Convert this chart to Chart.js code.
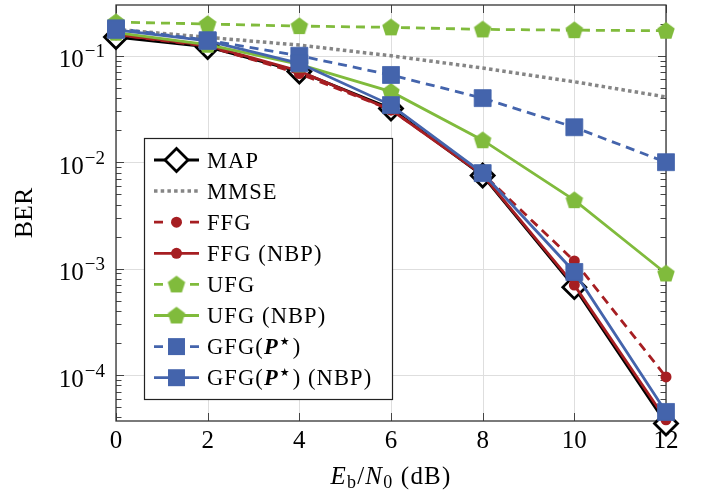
<!DOCTYPE html>
<html>
<head>
<meta charset="utf-8">
<script src="https://cdn.jsdelivr.net/npm/chart.js@4/dist/chart.umd.min.js"></script>
<style>
  html, body { margin: 0; padding: 0; background: #fff; }
  canvas { display: block; }
</style>
</head>
<body>
<canvas id="berChart" width="707" height="497"></canvas>
<script>
// Eb/N0 in dB
const ebn0 = [0, 2, 4, 6, 8, 10, 12];

// BER curves
const berMap     = [0.150, 0.121, 0.071, 0.032, 0.0075, 0.00067, 0.000035];
const berMmse    = [0.177, 0.149, 0.126, 0.100, 0.0767, 0.057, 0.041];
const berFfg     = [0.158, 0.123, 0.068, 0.031, 0.0078, 0.00118, 0.000096];
const berFfgNbp  = [0.158, 0.125, 0.072, 0.031, 0.0076, 0.00070, 0.000038];
const berUfg     = [0.207, 0.199, 0.190, 0.185, 0.177, 0.174, 0.172];
const berUfgNbp  = [0.165, 0.127, 0.083, 0.046, 0.0161, 0.0044, 0.00090];
const berGfg     = [0.181, 0.140, 0.100, 0.066, 0.040, 0.0213, 0.0100];
const berGfgNbp  = [0.175, 0.138, 0.085, 0.0344, 0.0079, 0.00093, 0.000045];

// axis ticks
const xTicks = [0, 2, 4, 6, 8, 10, 12];
const yTicks = [1e-1, 1e-2, 1e-3, 1e-4];
const yTickExp = ['\u22121', '\u22122', '\u22123', '\u22124'];

const RED = '#a61e22';
const GREEN = '#80bb3c';
const BLUE = '#4464ac';
const GRAY = '#858585';
const SERIF = '"Liberation Serif", "Times New Roman", serif';

function makePentagon(color) {
  const c = document.createElement('canvas');
  c.width = 20; c.height = 20;
  const g = c.getContext('2d');
  g.beginPath();
  for (let i = 0; i < 5; i++) {
    const a = -Math.PI / 2 + i * 2 * Math.PI / 5;
    const px = 10 + 9.2 * Math.cos(a), py = 10.5 + 9.2 * Math.sin(a);
    if (i === 0) g.moveTo(px, py); else g.lineTo(px, py);
  }
  g.closePath();
  g.fillStyle = color;
  g.fill();
  return c;
}
const pentagon = makePentagon(GREEN);

function pts(arr) {
  return ebn0.map((x, i) => ({ x: x, y: arr[i] }));
}

const datasets = [
  { label: 'MAP', data: pts(berMap), borderColor: '#000', borderWidth: 2.8,
    pointStyle: 'rectRot', pointRadius: 11.5, pointBackgroundColor: '#fff',
    pointBorderColor: '#000', pointBorderWidth: 2.8, order: 8 },
  { label: 'MMSE', data: pts(berMmse), borderColor: GRAY, borderWidth: 3.5,
    borderDash: [3.5, 3.2], pointRadius: 0, order: 7 },
  { label: 'FFG', data: pts(berFfg), borderColor: RED, borderWidth: 2.8,
    borderDash: [9, 6], pointStyle: 'circle', pointRadius: 5.5,
    pointBackgroundColor: RED, pointBorderColor: RED, pointBorderWidth: 0, order: 6 },
  { label: 'FFG (NBP)', data: pts(berFfgNbp), borderColor: RED, borderWidth: 2.8,
    pointStyle: 'circle', pointRadius: 5.5,
    pointBackgroundColor: RED, pointBorderColor: RED, pointBorderWidth: 0, order: 5 },
  { label: 'UFG', data: pts(berUfg), borderColor: GREEN, borderWidth: 2.8,
    borderDash: [9, 6], pointStyle: pentagon, order: 4 },
  { label: 'UFG (NBP)', data: pts(berUfgNbp), borderColor: GREEN, borderWidth: 2.8,
    pointStyle: pentagon, order: 3 },
  { label: 'GFG(P*)', data: pts(berGfg), borderColor: BLUE, borderWidth: 2.8,
    borderDash: [9, 6], pointStyle: 'rect', pointRadius: 12,
    pointBackgroundColor: BLUE, pointBorderColor: BLUE, pointBorderWidth: 0.8, order: 2 },
  { label: 'GFG(P*) (NBP)', data: pts(berGfgNbp), borderColor: BLUE, borderWidth: 2.8,
    pointStyle: 'rect', pointRadius: 12,
    pointBackgroundColor: BLUE, pointBorderColor: BLUE, pointBorderWidth: 0.8, order: 1 }
];
datasets.forEach(d => { d.tension = 0; d.clip = false; d.fill = false; });

// draw a run of text pieces with different fonts / offsets
function drawPieces(ctx, pieces, x, y, align, spacing) {
  ctx.letterSpacing = (spacing || 0) + 'px';
  let total = 0;
  pieces.forEach(p => { ctx.font = p.f; p.w = ctx.measureText(p.t).width; total += p.w + (p.gap || 0); });
  let cx = align === 'center' ? x - total / 2 : (align === 'right' ? x - total : x);
  ctx.textAlign = 'left';
  ctx.textBaseline = 'alphabetic';
  pieces.forEach(p => {
    ctx.font = p.f;
    ctx.fillText(p.t, cx, y + (p.dy || 0));
    cx += p.w + (p.gap || 0);
  });
  ctx.letterSpacing = '0px';
}

const axisPlugin = {
  id: 'axisPlugin',
  beforeDatasetsDraw(chart) {
    const { ctx, chartArea: a, scales: { x, y } } = chart;
    ctx.save();
    // major grid
    ctx.strokeStyle = '#dedede';
    ctx.lineWidth = 1;
    ctx.beginPath();
    xTicks.forEach(v => {
      const px = Math.round(x.getPixelForValue(v)) + 0.5;
      ctx.moveTo(px, a.top); ctx.lineTo(px, a.bottom);
    });
    yTicks.forEach(v => {
      const py = Math.round(y.getPixelForValue(v)) + 0.5;
      ctx.moveTo(a.left, py); ctx.lineTo(a.right, py);
    });
    ctx.stroke();

    // tick marks inside the frame
    ctx.strokeStyle = '#444';
    ctx.lineWidth = 1;
    ctx.beginPath();
    xTicks.forEach(v => {
      const px = Math.round(x.getPixelForValue(v)) + 0.5;
      ctx.moveTo(px, a.bottom); ctx.lineTo(px, a.bottom - 8);
      ctx.moveTo(px, a.top); ctx.lineTo(px, a.top + 8);
    });
    yTicks.forEach(v => {
      const py = Math.round(y.getPixelForValue(v)) + 0.5;
      ctx.moveTo(a.left, py); ctx.lineTo(a.left + 8, py);
      ctx.moveTo(a.right, py); ctx.lineTo(a.right - 8, py);
    });
    for (let e = -5; e <= 0; e++) {
      for (let k = 2; k <= 9; k++) {
        const v = k * Math.pow(10, e);
        if (v < y.min || v > y.max) continue;
        const py = Math.round(y.getPixelForValue(v)) + 0.5;
        ctx.moveTo(a.left, py); ctx.lineTo(a.left + 5.5, py);
        ctx.moveTo(a.right, py); ctx.lineTo(a.right - 5.5, py);
      }
    }
    ctx.stroke();

    // frame
    ctx.strokeStyle = '#333';
    ctx.lineWidth = 1.3;
    ctx.strokeRect(a.left, a.top, a.right - a.left, a.bottom - a.top);

    // tick labels
    ctx.fillStyle = '#000';
    ctx.font = '25px ' + SERIF;
    ctx.textAlign = 'center';
    ctx.textBaseline = 'alphabetic';
    xTicks.forEach(v => ctx.fillText(String(v), x.getPixelForValue(v), 448));
    yTicks.forEach((v, i) => {
      const py = y.getPixelForValue(v);
      ctx.font = '19px ' + SERIF;
      const we = ctx.measureText(yTickExp[i]).width;
      ctx.font = '25px ' + SERIF;
      const wb = ctx.measureText('10').width;
      ctx.textAlign = 'left';
      ctx.fillText('10', 105 - we - wb - 1, py + 11.5);
      ctx.font = '19px ' + SERIF;
      ctx.fillText(yTickExp[i], 105 - we, py + 1.5);
    });

    // axis titles
    drawPieces(ctx, [
      { t: 'E', f: 'italic 25px ' + SERIF },
      { t: 'b', f: '18px ' + SERIF, dy: 4 },
      { t: '/', f: '25px ' + SERIF },
      { t: 'N', f: 'italic 25px ' + SERIF },
      { t: '0', f: '18px ' + SERIF, dy: 4 },
      { t: ' (dB)', f: '25px ' + SERIF }
    ], (a.left + a.right) / 2, 484, 'center', 1.2);

    ctx.save();
    ctx.translate(25, (a.top + a.bottom) / 2);
    ctx.rotate(-Math.PI / 2);
    ctx.font = '26px ' + SERIF;
    ctx.textAlign = 'center';
    ctx.textBaseline = 'middle';
    ctx.fillText('BER', 0, 0);
    ctx.restore();
    ctx.restore();
  },
  afterDraw(chart) {
    const ctx = chart.ctx;
    const box = { x: 144, y: 138, w: 248, h: 261 };
    ctx.save();
    ctx.fillStyle = '#fff';
    ctx.fillRect(box.x, box.y, box.w, box.h);
    ctx.strokeStyle = '#222';
    ctx.lineWidth = 1.2;
    ctx.strokeRect(box.x + 0.5, box.y + 0.5, box.w, box.h);

    const x0 = 154, x1 = 199, xm = 176.5;
    chart.data.datasets.forEach((d, i) => {
      const ry = 160 + i * 31.1;
      ctx.strokeStyle = d.borderColor;
      ctx.lineWidth = d.borderWidth;
      ctx.beginPath();
      if (d.label === 'MMSE') {
        ctx.setLineDash(d.borderDash);
        ctx.moveTo(x0, ry); ctx.lineTo(x1, ry);
      } else if (d.borderDash) {
        ctx.moveTo(x0, ry); ctx.lineTo(x0 + 9, ry);
        ctx.moveTo(x1 - 9, ry); ctx.lineTo(x1, ry);
      } else {
        ctx.moveTo(x0, ry); ctx.lineTo(x1, ry);
      }
      ctx.stroke();
      ctx.setLineDash([]);

      // marker
      if (d.pointStyle === 'rectRot') {
        const r = d.pointRadius;
        ctx.beginPath();
        ctx.moveTo(xm, ry - r); ctx.lineTo(xm + r, ry); ctx.lineTo(xm, ry + r); ctx.lineTo(xm - r, ry);
        ctx.closePath();
        ctx.fillStyle = '#fff'; ctx.fill();
        ctx.lineWidth = d.pointBorderWidth; ctx.strokeStyle = '#000'; ctx.stroke();
      } else if (d.pointStyle === 'circle') {
        ctx.beginPath();
        ctx.arc(xm, ry, d.pointRadius, 0, Math.PI * 2);
        ctx.fillStyle = d.pointBackgroundColor; ctx.fill();
      } else if (d.pointStyle === 'rect') {
        const s = d.pointRadius * Math.SQRT1_2;
        ctx.fillStyle = d.pointBackgroundColor;
        ctx.fillRect(xm - s, ry - s, 2 * s, 2 * s);
      } else if (d.pointStyle === pentagon) {
        ctx.drawImage(pentagon, xm - 10, ry - 10);
      }

      ctx.fillStyle = '#000';
      const f = '22.5px ' + SERIF;
      let pieces;
      if (d.label.indexOf('GFG') === 0) {
        pieces = [
          { t: 'GFG(', f: f },
          { t: 'P', f: 'italic bold 22.5px ' + SERIF, gap: 1 },
          { t: '\u2605', f: '11px "DejaVu Sans"', dy: -9, gap: 2 },
          { t: ')', f: f }
        ];
        if (d.label.indexOf('NBP') > 0) pieces.push({ t: ' (NBP)', f: f });
      } else {
        pieces = [{ t: d.label, f: f }];
      }
      drawPieces(ctx, pieces, 207, ry + 7.5, 'left', 1.1);
    });
    ctx.restore();
  }
};

new Chart(document.getElementById('berChart'), {
  type: 'line',
  data: { datasets: datasets },
  options: {
    responsive: false,
    animation: false,
    devicePixelRatio: 1,
    layout: { autoPadding: false, padding: { left: 116, right: 41, top: 5, bottom: 76 } },
    plugins: { legend: { display: false }, tooltip: { enabled: false } },
    scales: {
      x: { type: 'linear', min: 0, max: 12, display: false },
      y: { type: 'logarithmic', min: 3.7e-5, max: 0.3, display: false }
    }
  },
  plugins: [axisPlugin]
});
</script>
</body>
</html>
